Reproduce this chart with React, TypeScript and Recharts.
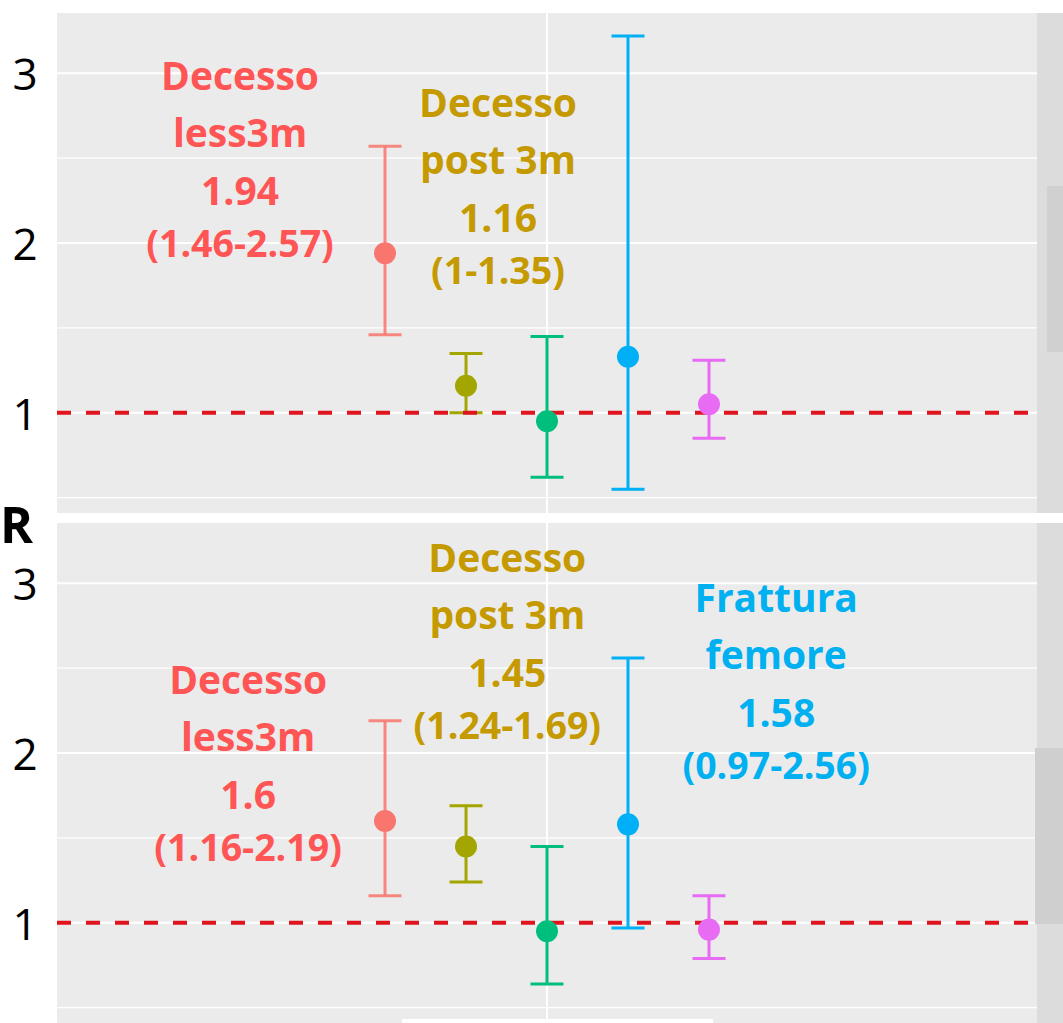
import React from 'react';
import {
  ComposedChart,
  Scatter,
  ErrorBar,
  XAxis,
  YAxis,
  CartesianGrid,
  ReferenceLine,
  ReferenceDot,
} from 'recharts';

// ---------- data ----------
const categories = ['Decesso less3m', 'Decesso post 3m', 'Esito 3', 'Frattura femore', 'Esito 5'];
const categoryLines = [['Decesso', 'less3m'], ['Decesso', 'post 3m'], ['Esito 3'], ['Frattura', 'femore'], ['Esito 5']];
const xPositions = [-2, -1, 0, 1, 2];

const orTop = [1.94, 1.16, 0.95, 1.33, 1.05];
const loTop = [1.46, 1.0, 0.62, 0.55, 0.85];
const hiTop = [2.57, 1.35, 1.45, 3.22, 1.31];

const orBottom = [1.6, 1.45, 0.95, 1.58, 0.96];
const loBottom = [1.16, 1.24, 0.64, 0.97, 0.79];
const hiBottom = [2.19, 1.69, 1.45, 2.56, 1.16];

const yMajorTicks = [1, 2, 3];
const yMinorTicks = [0.5, 1.5, 2.5];
const xMajorTicks = [0];
const referenceValue = 1;

// annotation anchors (data coordinates of the first text line)
const annotTopIdx = [0, 1];
const annotTopX = [-3.79, -0.605];
const annotTopY = [2.9, 2.741];
const annotBottomIdx = [0, 1, 3];
const annotBottomX = [-3.69, -0.49, 2.83];
const annotBottomY = [2.347, 3.065, 2.829];

// ---------- styles ----------
const seriesColors = ['#F8766D', '#A3A500', '#00BF7D', '#00B0F6', '#E76BF3'];
const labelColors = ['#FF5555', '#C49A00', '#00BF7D', '#00B0F0', '#E76BF3'];
const FONT = "'Open Sans', 'DejaVu Sans', sans-serif";
const PANEL_BG = '#EBEBEB';
const X_DOMAIN: [number, number] = [-6.05, 6.05];
const Y_DOMAIN: [number, number] = [0.41, 3.355];
const LINE_OFFSETS = [0, 57, 115, 167];

const Annotation = (props: any) => {
  const { cx, cy, lines, color } = props;
  return (
    <g>
      {lines.map((t: string, k: number) => (
        <text
          key={k}
          x={cx}
          y={cy + LINE_OFFSETS[k]}
          textAnchor="middle"
          fontFamily={FONT}
          fontWeight={700}
          fontSize={k === lines.length - 1 ? 37.5 : 39}
          fill={color}
        >
          {t}
        </text>
      ))}
    </g>
  );
};

const YTick = (props: any) => {
  const { y, payload } = props;
  return (
    <text x={25} y={y} textAnchor="middle" dominantBaseline="central" fontFamily={FONT} fontSize={44} fill="#000">
      {payload.value}
    </text>
  );
};

const fmt = (v: number) => String(v);

type PanelProps = {
  height: number;
  top: number;
  marginTop: number;
  or: number[];
  lo: number[];
  hi: number[];
  annIdx: number[];
  annX: number[];
  annY: number[];
};

const Panel = ({ height, top, marginTop, or, lo, hi, annIdx, annX, annY }: PanelProps) => {
  return (
    <div style={{ position: 'absolute', left: 0, top, width: 1063, height }}>
      <ComposedChart width={1063} height={height} margin={{ top: marginTop, right: 26, bottom: 0, left: 0 }}>
        <CartesianGrid
          fill={PANEL_BG}
          stroke="#FFFFFF"
          strokeWidth={1.2}
          horizontalValues={yMinorTicks}
          vertical={false}
        />
        <CartesianGrid
          stroke="#FFFFFF"
          strokeWidth={2}
          horizontalValues={yMajorTicks}
          verticalValues={xMajorTicks}
        />
        <XAxis type="number" dataKey="x" domain={X_DOMAIN} ticks={xMajorTicks} hide allowDataOverflow />
        <YAxis
          type="number"
          domain={Y_DOMAIN}
          ticks={yMajorTicks}
          width={57}
          axisLine={false}
          tickLine={false}
          tick={<YTick />}
          allowDataOverflow
        />
        {categories.map((c, i) => (
          <Scatter
            key={c}
            name={c}
            data={[{ x: xPositions[i], y: or[i], err: [or[i] - lo[i], hi[i] - or[i]] }]}
            dataKey="y"
            fill={seriesColors[i]}
            isAnimationActive={false}
            shape={(p: any) => <circle cx={p.cx} cy={p.cy} r={11} fill={seriesColors[i]} />}
          >
            <ErrorBar
              dataKey="err"
              direction="y"
              width={16.5}
              strokeWidth={3}
              stroke={seriesColors[i]}
              strokeOpacity={i === 0 ? 0.85 : 1}
              isAnimationActive={false}
            />
          </Scatter>
        ))}
        {annIdx.map((idx, k) => (
          <ReferenceDot
            key={`ann-${k}`}
            x={annX[k]}
            y={annY[k]}
            r={0}
            ifOverflow="visible"
            shape={(p: any) => (
              <Annotation
                cx={p.cx}
                cy={p.cy}
                color={labelColors[idx]}
                lines={[...categoryLines[idx], fmt(or[idx]), `(${fmt(lo[idx])}-${fmt(hi[idx])})`]}
              />
            )}
          />
        ))}
        <ReferenceLine y={referenceValue} stroke="#E0141E" strokeWidth={4} strokeDasharray="14 15" />
      </ComposedChart>
    </div>
  );
};

export default function App() {
  return (
    <div
      style={{
        position: 'absolute',
        left: 0,
        top: 0,
        width: 1063,
        height: 1023,
        background: '#FFFFFF',
        overflow: 'hidden',
      }}
    >
      <Panel
        height={513}
        top={0}
        marginTop={13}
        or={orTop}
        lo={loTop}
        hi={hiTop}
        annIdx={annotTopIdx}
        annX={annotTopX}
        annY={annotTopY}
      />
      <Panel
        height={500}
        top={523}
        marginTop={0}
        or={orBottom}
        lo={loBottom}
        hi={hiBottom}
        annIdx={annotBottomIdx}
        annX={annotBottomX}
        annY={annotBottomY}
      />
      <svg
        width={1063}
        height={1023}
        style={{ position: 'absolute', left: 0, top: 0, pointerEvents: 'none' }}
      >
        <rect x={1037} y={13} width={26} height={500} fill="#DCDCDC" />
        <rect x={1047} y={186} width={16} height={166} fill="#D0D0D0" />
        <rect x={1037} y={523} width={26} height={500} fill="#DCDCDC" />
        <rect x={1035} y={748} width={28} height={176} fill="#CFCFCF" />
        <rect x={402} y={1019} width={311} height={4} fill="#FFFFFF" />
        <text x={0} y={543} fontFamily={FONT} fontWeight={700} fontSize={50} fill="#000">
          R
        </text>
      </svg>
    </div>
  );
}
